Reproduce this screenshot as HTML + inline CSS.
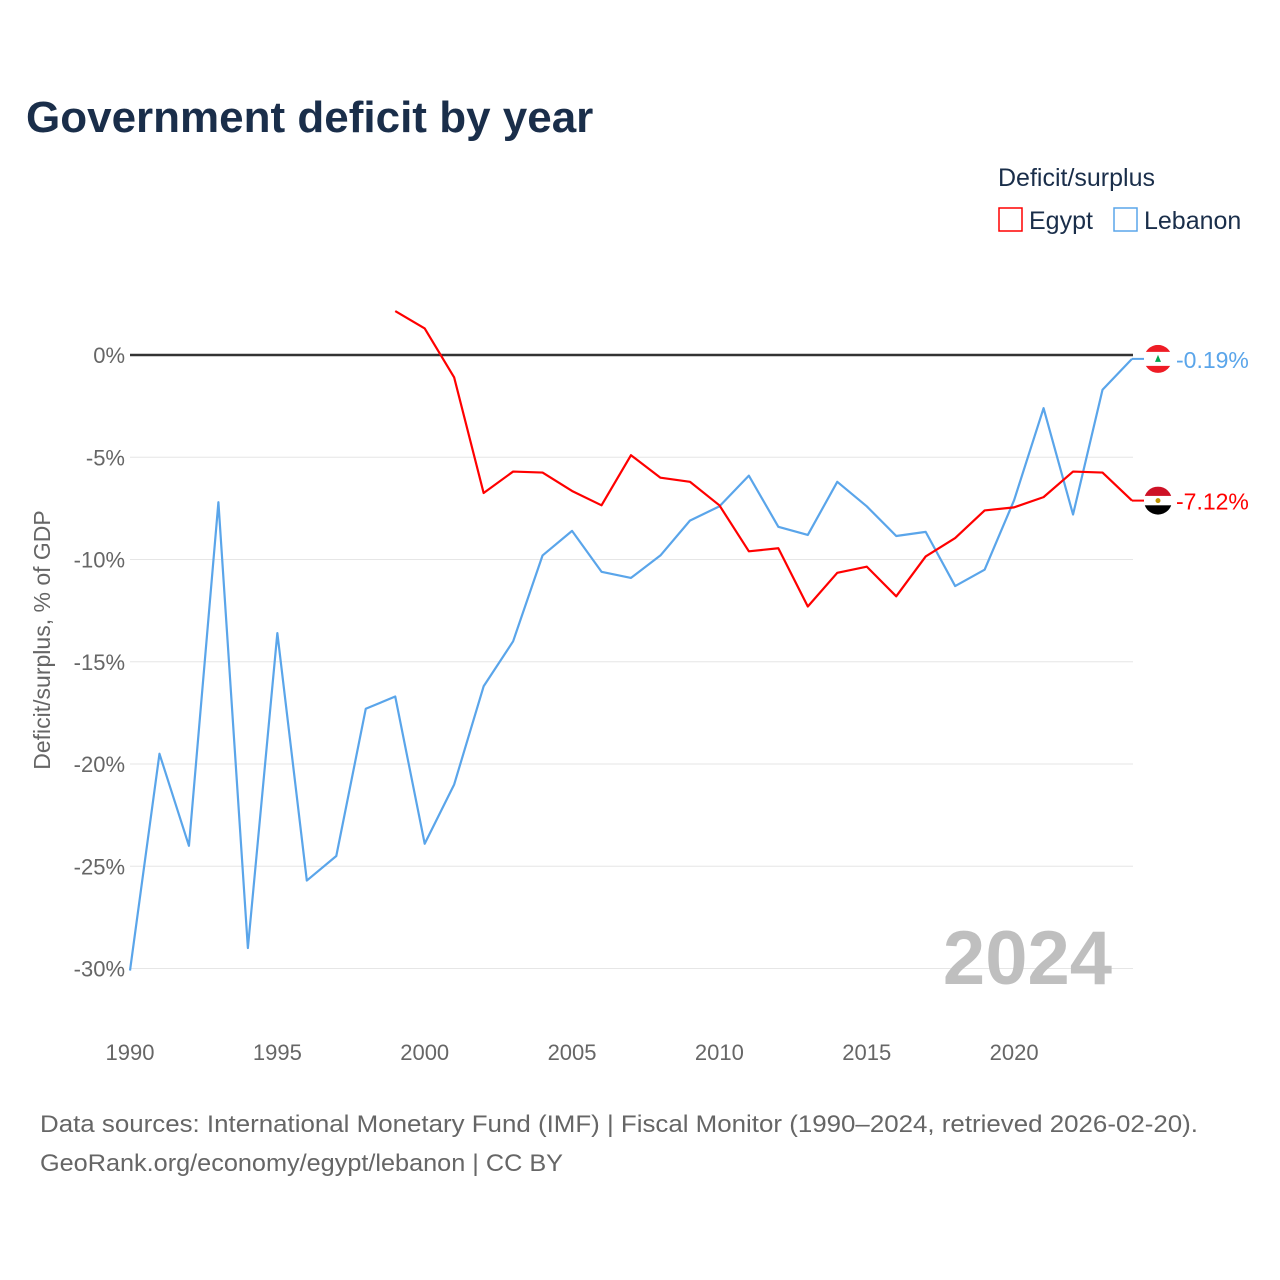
<!DOCTYPE html>
<html><head><meta charset="utf-8"><style>
body{margin:0;background:#fff;font-family:"Liberation Sans",sans-serif}
#wrap{position:relative;width:1280px;height:1280px;overflow:hidden}
</style></head><body>
<div id="wrap">
<svg id="svg" width="1280" height="1280" xmlns="http://www.w3.org/2000/svg">
<text x="26" y="132" font-size="44" font-weight="bold" fill="#1a2e4a">Government deficit by year</text>
<text x="998" y="186" font-size="25" fill="#1a2e4a">Deficit/surplus</text>
<g><rect x="999" y="208" width="23" height="23" fill="none" stroke="#ff0000" stroke-width="1.5"/><text x="1029" y="229" font-size="25" fill="#1a2e4a">Egypt</text></g>
<g><rect x="1114" y="208" width="23" height="23" fill="none" stroke="#5aa5ea" stroke-width="1.5"/><text x="1144" y="229" font-size="25" fill="#1a2e4a">Lebanon</text></g>
<text transform="translate(50,640) rotate(-90)" text-anchor="middle" font-size="23" fill="#666">Deficit/surplus, % of GDP</text>
<g id="grid"></g><g id="lines"></g><g id="ends"></g>
<text x="1112" y="984" text-anchor="end" font-size="76" font-weight="bold" fill="#bfbfbf">2024</text>
<text x="40" y="1132" font-size="24" fill="#666" textLength="1158" lengthAdjust="spacingAndGlyphs">Data sources: International Monetary Fund (IMF) | Fiscal Monitor (1990–2024, retrieved 2026-02-20).</text>
<text x="40" y="1171" font-size="24" fill="#666" textLength="523" lengthAdjust="spacingAndGlyphs">GeoRank.org/economy/egypt/lebanon | CC BY</text>
</svg></div>
<script>
const yTicks=[0,-5,-10,-15,-20,-25,-30];
const xTicks=[1990,1995,2000,2005,2010,2015,2020];
const lebYears=[1990,1991,1992,1993,1994,1995,1996,1997,1998,1999,2000,2001,2002,2003,2004,2005,2006,2007,2008,2009,2010,2011,2012,2013,2014,2015,2016,2017,2018,2019,2020,2021,2022,2023,2024];
const lebanon=[-30.1,-19.5,-24.0,-7.2,-29.0,-13.6,-25.7,-24.5,-17.3,-16.7,-23.9,-21.0,-16.2,-14.0,-9.8,-8.6,-10.6,-10.9,-9.8,-8.1,-7.4,-5.9,-8.4,-8.8,-6.2,-7.4,-8.85,-8.65,-11.3,-10.5,-7.1,-2.6,-7.8,-1.7,-0.19];
const egyYears=[1999,2000,2001,2002,2003,2004,2005,2006,2007,2008,2009,2010,2011,2012,2013,2014,2015,2016,2017,2018,2019,2020,2021,2022,2023,2024];
const egypt=[2.15,1.3,-1.1,-6.75,-5.7,-5.75,-6.65,-7.35,-4.9,-6.0,-6.2,-7.35,-9.6,-9.45,-12.3,-10.65,-10.35,-11.8,-9.85,-8.95,-7.6,-7.45,-6.95,-5.7,-5.75,-7.12];
const X=y=>130+(y-1990)*29.47, Y=v=>355-v*20.45;
const NS="http://www.w3.org/2000/svg";
function mk(t,a,p){const e=document.createElementNS(NS,t);for(const k in a)e.setAttribute(k,a[k]);p.appendChild(e);return e;}
const g=document.getElementById('grid');
yTicks.forEach(v=>{
 const l=mk('line',{x1:130,x2:1133,y1:Y(v),y2:Y(v),stroke:v===0?'#333':'#e6e6e6','stroke-width':v===0?2.5:1},g);
 
 
 const t=mk('text',{x:125,y:Y(v)+8,'text-anchor':'end','font-size':22,fill:'#666'},g);t.textContent=v+'%';
 
 
});
xTicks.forEach(v=>{
 const t=mk('text',{x:X(v),y:1060,'text-anchor':'middle','font-size':22,fill:'#666'},g);t.textContent=v;
 
 
});
const L=document.getElementById('lines');
function line(ys,vs,c,n){
 const p=mk('polyline',{points:ys.map((y,i)=>X(y)+','+Y(vs[i])).join(' '),fill:'none',stroke:c,'stroke-width':2.2,'stroke-linejoin':'round'},L);
 
 
}
line(lebYears,lebanon,'#5aa5ea','lebanon-line');
line(egyYears,egypt,'#ff0000','egypt-line');
const E=document.getElementById('ends');
function end(v,c,n,flag){
 const y=Y(v),cx=1158;
 const gg=mk('g',{},E);
 
 
 mk('line',{x1:X(2024),x2:cx-14,y1:y,y2:y,stroke:c,'stroke-width':2},gg);
 const cp='cp'+n;const d=mk('clipPath',{id:cp},gg);mk('circle',{cx:cx,cy:y,r:14},d);
 const fg=mk('g',{'clip-path':'url(#'+cp+')'},gg);
 mk('rect',{x:cx-14,y:y-14,width:28,height:28,fill:'#fff'},fg);
 mk('rect',{x:cx-14,y:y-14,width:28,height:flag==='lb'?7:9.3,fill:flag==='lb'?'#ee1c25':'#ce1126'},fg);
 mk('rect',{x:cx-14,y:y+(flag==='lb'?7:4.7),width:28,height:10,fill:flag==='lb'?'#ee1c25':'#000'},fg);
 if(flag==='lb')mk('polygon',{points:`${cx},${y-4} ${cx-3},${y+3} ${cx+3},${y+3}`,fill:'#00a651'},fg);
 else mk('circle',{cx:cx,cy:y,r:2.5,fill:'#c09300'},fg);
 const t=mk('text',{x:1176,y:y+9,'font-size':23,fill:c},gg);t.textContent=v.toFixed(2)+'%';
}
end(lebanon[lebanon.length-1],'#5aa5ea','lebanon-end-label','lb');
end(egypt[egypt.length-1],'#ff0000','egypt-end-label','eg');
</script>
</body></html>
